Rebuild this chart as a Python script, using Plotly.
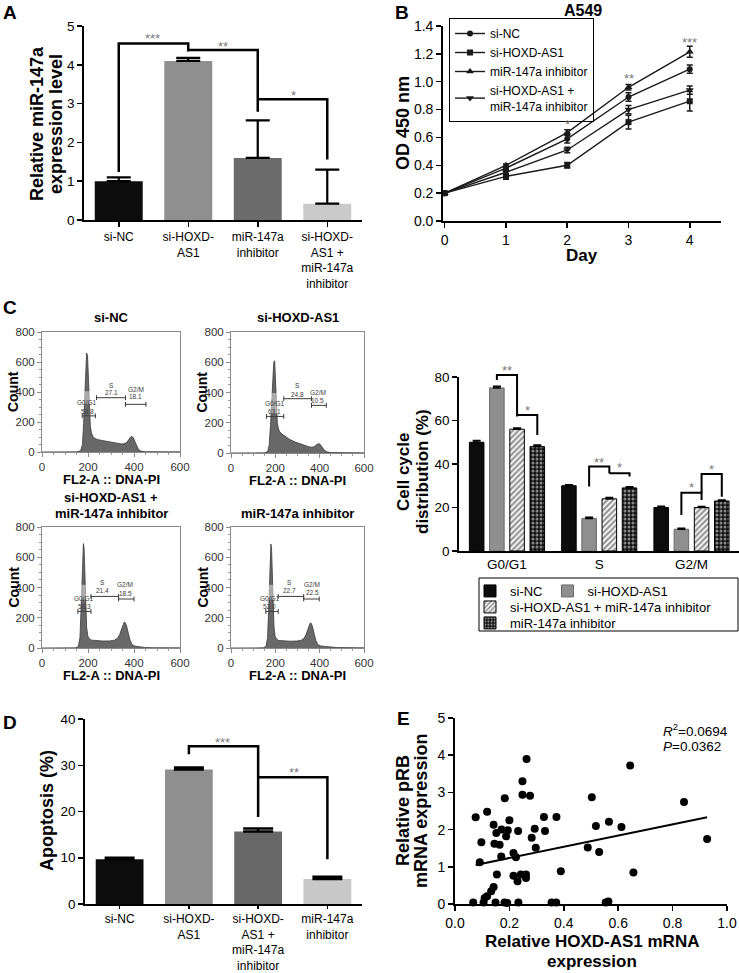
import plotly.graph_objects as go

W, H = 739, 973
FONT = "Liberation Sans, Arial, Helvetica, sans-serif"


def X(p):
    return p / W


def Y(p):
    return 1 - p / H


# ---------------- Panel A : relative miR-147a expression ----------------
a_labels = ["si-NC", "si-HOXD-<br>AS1", "miR-147a<br>inhibitor",
            "si-HOXD-<br>AS1 +<br>miR-147a<br>inhibitor"]
a_values = [1.00, 4.10, 1.60, 0.42]
a_errors = [0.10, 0.08, 0.97, 0.88]
a_colors = ["#0c0c0c", "#8f8f8f", "#6b6b6b", "#cacaca"]

# ---------------- Panel B : growth curves (OD 450 nm) ----------------
b_days = [0, 1, 2, 3, 4]
b_names = ["si-NC", "si-HOXD-AS1", "miR-147a inhibitor",
           "si-HOXD-AS1 +<br>miR-147a inhibitor"]
b_si_nc = [0.20, 0.38, 0.59, 0.89, 1.09]
b_si_hoxd = [0.20, 0.32, 0.40, 0.71, 0.86]
b_mir_inh = [0.20, 0.40, 0.635, 0.96, 1.215]
b_combo = [0.20, 0.35, 0.51, 0.80, 0.94]
b_si_nc_err = [0.01, 0.01, 0.03, 0.03, 0.03]
b_si_hoxd_err = [0.01, 0.02, 0.02, 0.05, 0.07]
b_mir_inh_err = [0.01, 0.01, 0.02, 0.02, 0.04]
b_combo_err = [0.01, 0.01, 0.02, 0.03, 0.03]
b_symbols = ["circle", "square", "triangle-up", "triangle-down"]

# ---------------- Panel C : flow cytometry histograms ----------------
h_nc_x = [0, 150, 168, 176, 181, 186, 190, 194, 198, 202, 206, 210, 215, 221, 229, 240, 260, 290, 320,
          345, 360, 370, 378, 385, 391, 397, 404, 412, 420, 430, 450, 600]
h_nc_y = [0, 1, 8, 50, 190, 400, 580, 660, 640, 470, 280, 175, 128, 104, 92, 84, 77, 68, 60,
          54, 56, 66, 85, 100, 104, 96, 70, 38, 16, 6, 2, 1]
h_hx_x = [0, 150, 165, 172, 178, 184, 189, 193, 197, 201, 205, 209, 214, 220, 230, 245, 265, 290, 320,
          350, 365, 375, 383, 390, 396, 403, 411, 420, 432, 450, 600]
h_hx_y = [0, 1, 8, 50, 180, 380, 530, 600, 610, 470, 290, 200, 160, 140, 125, 108, 90, 72, 55,
          42, 38, 42, 52, 60, 62, 56, 40, 20, 8, 3, 1]
h_cb_x = [0, 145, 158, 165, 170, 174, 177, 180, 183, 186, 190, 194, 199, 206, 215, 235, 265, 295, 315,
          328, 338, 346, 352, 357, 362, 368, 375, 383, 392, 405, 425, 445, 480, 600]
h_cb_y = [0, 1, 10, 70, 260, 480, 630, 690, 660, 480, 270, 140, 80, 60, 52, 48, 46, 47, 52,
          64, 90, 125, 155, 170, 168, 145, 100, 52, 22, 12, 8, 4, 2, 1]
h_mi_x = [0, 145, 158, 165, 170, 174, 177, 180, 183, 186, 190, 194, 199, 206, 215, 235, 265, 295, 315,
          328, 338, 346, 352, 357, 362, 368, 375, 383, 392, 405, 425, 445, 480, 600]
h_mi_y = [0, 1, 10, 70, 255, 470, 625, 688, 655, 475, 265, 138, 78, 58, 50, 46, 45, 46, 50,
          62, 86, 120, 150, 165, 163, 140, 95, 50, 22, 14, 10, 6, 3, 1]
gate_names = ["G0/G1", "S", "G2/M"]
gate_nc = ["53.8", "27.1", "18.1"]
gate_hx = ["63.1", "24.8", "10.5"]
gate_cb = ["58.3", "21.4", "18.5"]
gate_mi = ["52.0", "22.7", "22.5"]

# ---------------- Panel C : cell-cycle distribution bars ----------------
c_phases = ["G0/G1", "S", "G2/M"]
c_names = ["si-NC", "si-HOXD-AS1", "si-HOXD-AS1 + miR-147a inhibitor", "miR-147a inhibitor"]
c_si_nc = [50, 30, 20]
c_si_hoxd = [75, 15, 10]
c_combo = [56, 24, 20]
c_mir_inh = [48, 29, 23]
c_si_nc_err = [0.8, 0.5, 0.6]
c_si_hoxd_err = [0.7, 0.5, 0.5]
c_combo_err = [0.6, 0.6, 0.5]
c_mir_inh_err = [0.7, 0.5, 0.5]

# ---------------- Panel D : apoptosis ----------------
d_labels = ["si-NC", "si-HOXD-<br>AS1", "si-HOXD-<br>AS1 +<br>miR-147a<br>inhibitor",
            "miR-147a<br>inhibitor"]
d_values = [9.7, 29.1, 15.7, 5.4]
d_errors = [0.3, 0.4, 0.6, 0.5]
d_colors = ["#0c0c0c", "#8f8f8f", "#686868", "#c8c8c8"]

# ---------------- Panel E : correlation ----------------
e_x = [0.076, 0.097, 0.091, 0.067, 0.118, 0.142, 0.152, 0.145, 0.164, 0.171, 0.183, 0.188, 0.194, 0.200,
       0.170, 0.154, 0.142, 0.133, 0.118, 0.109, 0.105, 0.149, 0.182, 0.192, 0.215, 0.224, 0.232, 0.215,
       0.230, 0.242, 0.261, 0.261, 0.233, 0.248, 0.263, 0.248, 0.276, 0.282, 0.293, 0.297, 0.327, 0.331,
       0.355, 0.372, 0.373, 0.389, 0.503, 0.488, 0.518, 0.530, 0.554, 0.564, 0.566, 0.612, 0.644, 0.656,
       0.842, 0.927]
e_y = [2.33, 1.66, 1.12, 0.04, 2.48, 2.13, 1.91, 1.62, 1.59, 2.00, 2.84, 1.82, 1.98, 2.25,
       1.28, 0.79, 0.46, 0.34, 0.21, 0.16, 0.04, 0.04, 0.04, 0.03, 1.37, 1.26, 1.96, 0.76,
       0.61, 0.79, 0.79, 0.70, 0.04, 3.30, 3.90, 2.94, 2.91, 1.78, 2.02, 1.51, 2.34, 1.96,
       0.04, 0.04, 2.34, 0.88, 2.87, 1.52, 2.10, 1.40, 0.04, 0.07, 2.21, 2.07, 3.72, 0.85,
       2.74, 1.75]
e_fit_x = [0.076, 0.927]
e_fit_y = [1.05, 2.33]
e_stats = ["<i>R</i><sup>2</sup>=0.0694", "<i>P</i>=0.0362"]

# =====================================================================
fig = go.Figure()

# Panel A bars
fig.add_trace(go.Bar(x=list(range(len(a_values))), y=a_values, width=0.69,
                     marker=dict(color=a_colors, line=dict(width=0)),
                     error_y=dict(type="data", array=a_errors, arrayminus=[0] * len(a_errors),
                                  symmetric=False, color="black", thickness=2.2, width=12),
                     xaxis="x", yaxis="y", showlegend=False))

# Panel B lines
for name, vals, errs, sym in zip(b_names, [b_si_nc, b_si_hoxd, b_mir_inh, b_combo],
                                 [b_si_nc_err, b_si_hoxd_err, b_mir_inh_err, b_combo_err], b_symbols):
    fig.add_trace(go.Scatter(x=b_days, y=vals, name=name, mode="lines+markers",
                             line=dict(color="#1a1a1a", width=1.4),
                             marker=dict(symbol=sym, size=7 if "triangle" in sym else 6, color="#1a1a1a"),
                             error_y=dict(type="data", array=errs, color="#1a1a1a", thickness=1.5, width=3),
                             xaxis="x2", yaxis="y2", legend="legend", showlegend=True))

# Panel C histograms
hists = [(h_nc_x, h_nc_y, "3"), (h_hx_x, h_hx_y, "4"), (h_cb_x, h_cb_y, "5"), (h_mi_x, h_mi_y, "6")]
for hx, hy, k in hists:
    fig.add_trace(go.Scatter(x=hx, y=hy, mode="lines", fill="tozeroy",
                             line=dict(color="#3a3a3a", width=0.8), fillcolor="#686868",
                             xaxis="x" + k, yaxis="y" + k, showlegend=False, hoverinfo="skip"))

# Panel C grouped bars
c_styles = [
    dict(color="#0c0c0c", line=dict(color="black", width=1)),
    dict(color="#8f8f8f", line=dict(color="#6a6a6a", width=1)),
    dict(color="white", line=dict(color="black", width=1),
         pattern=dict(shape="/", fgcolor="#2a2a2a", bgcolor="white", size=4, solidity=0.55)),
    dict(color="black", line=dict(color="black", width=1),
         pattern=dict(shape=".", fgcolor="white", bgcolor="#111111", size=4, solidity=0.45)),
]
c_legends = ["legend2", "legend2", "legend3", "legend4"]
for name, vals, errs, mk, lg in zip(c_names, [c_si_nc, c_si_hoxd, c_combo, c_mir_inh],
                                    [c_si_nc_err, c_si_hoxd_err, c_combo_err, c_mir_inh_err],
                                    c_styles, c_legends):
    fig.add_trace(go.Bar(x=list(range(len(c_phases))), y=vals, name=name, marker=mk,
                         error_y=dict(type="data", array=errs, arrayminus=[0] * len(errs),
                                      symmetric=False, color="black", thickness=1.5, width=4),
                         xaxis="x7", yaxis="y7", legend=lg, showlegend=True))

# Panel D bars
fig.add_trace(go.Bar(x=list(range(len(d_values))), y=d_values, width=0.69,
                     marker=dict(color=d_colors, line=dict(width=0)),
                     error_y=dict(type="data", array=d_errors, arrayminus=[0] * len(d_errors),
                                  symmetric=False, color="black", thickness=2.5, width=15),
                     xaxis="x8", yaxis="y8", showlegend=False))

# Panel E scatter + fit
fig.add_trace(go.Scatter(x=e_x, y=e_y, mode="markers", marker=dict(color="black", size=8),
                         cliponaxis=False, xaxis="x9", yaxis="y9", showlegend=False))
fig.add_trace(go.Scatter(x=e_fit_x, y=e_fit_y, mode="lines", line=dict(color="black", width=2),
                         xaxis="x9", yaxis="y9", showlegend=False))

# =====================================================================
def axis(**kw):
    base = dict(showline=True, linecolor="black", linewidth=1.8, ticks="outside", ticklen=5,
                tickwidth=1.5, tickcolor="black", showgrid=False, zeroline=False, automargin=False,
                tickfont=dict(size=13.5, color="black", family=FONT), fixedrange=True)
    base.update(kw)
    return base


def hist_axis(**kw):
    base = dict(showline=True, mirror=True, linecolor="#8a8a8a", linewidth=1, ticks="outside",
                ticklen=4, tickwidth=1, tickcolor="#8a8a8a", showgrid=False, zeroline=False,
                automargin=False, fixedrange=True,
                tickfont=dict(size=11.5, color="#333333", family=FONT))
    base.update(kw)
    return base


hist_boxes = {"3": (42, 180, 332, 452), "4": (231, 364, 332, 453),
              "5": (42, 180, 527, 648), "6": (231, 364, 527, 648)}

cat_font = dict(size=12, color="black", family=FONT)
layout_axes = dict(
    xaxis=axis(domain=[X(84), X(362)], anchor="y", range=[-0.5, 3.5], tickvals=[0, 1, 2, 3],
               ticktext=a_labels, tickfont=cat_font),
    yaxis=axis(domain=[Y(220), Y(26)], anchor="x", range=[0, 5], dtick=1),
    xaxis2=axis(domain=[X(443), X(721)], anchor="y2", range=[-0.028, 4.51], dtick=1,
                tickfont=dict(size=14, color="black", family=FONT)),
    yaxis2=axis(domain=[Y(221), Y(26)], anchor="x2", range=[0, 1.4], dtick=0.2, tickformat=".1f",
                tickfont=dict(size=14, color="black", family=FONT)),
    xaxis7=axis(domain=[X(459), 1.0], anchor="y7", range=[-0.52, 2.515], tickvals=[0, 1, 2],
                ticktext=c_phases, ticks=""),
    yaxis7=axis(domain=[Y(551), Y(377)], anchor="x7", range=[0, 80], dtick=20),
    xaxis8=axis(domain=[X(85), X(362)], anchor="y8", range=[-0.5, 3.5], tickvals=[0, 1, 2, 3],
                ticktext=d_labels, tickfont=cat_font, ticklen=3),
    yaxis8=axis(domain=[Y(904), Y(719)], anchor="x8", range=[0, 40], dtick=10),
    xaxis9=axis(domain=[X(455), X(727)], anchor="y9", range=[0, 1.0], dtick=0.2, tickformat=".1f",
                tickfont=dict(size=14, color="black", family=FONT)),
    yaxis9=axis(domain=[Y(904), Y(718)], anchor="x9", range=[0, 5], dtick=1,
                tickfont=dict(size=14, color="black", family=FONT)),
)
for k, (x0, x1, y0, y1) in hist_boxes.items():
    layout_axes["xaxis" + k] = hist_axis(domain=[X(x0), X(x1)], anchor="y" + k, range=[0, 600],
                                         dtick=200, minor=dict(ticks="outside", ticklen=2,
                                                               tickcolor="#9a9a9a", dtick=50))
    layout_axes["yaxis" + k] = hist_axis(domain=[Y(y1), Y(y0)], anchor="x" + k, range=[0, 800],
                                         dtick=200, minor=dict(ticks="outside", ticklen=2,
                                                               tickcolor="#9a9a9a", dtick=50))

shapes = []
annotations = []


def text(t, x, y, size=13, bold=False, color="black", angle=0, xref="paper", yref="paper",
         xanchor="center", yanchor="middle"):
    annotations.append(dict(text=("<b>%s</b>" % t) if bold else t, x=x, y=y, xref=xref, yref=yref,
                            showarrow=False, textangle=angle, xanchor=xanchor, yanchor=yanchor,
                            font=dict(size=size, color=color, family=FONT)))


def path(points, xref, yref, width=2.5, color="black"):
    d = "M " + " L ".join("%g,%g" % p for p in points)
    shapes.append(dict(type="path", path=d, xref=xref, yref=yref,
                       line=dict(color=color, width=width), layer="above"))


# Panel letters
for letter, (lx, ly) in zip("ABCDE", [(10, 12), (402, 12), (10, 307), (10, 722), (403, 718)]):
    text(letter, X(lx), Y(ly), size=19, bold=True)

# Panel A extras
text("Relative miR-147a", X(37), Y(124), size=18, bold=True, angle=-90)
text("expression level", X(56), Y(124), size=18, bold=True, angle=-90)
path([(0, 1.24), (0, 4.55), (1, 4.55), (1, 4.34)], "x", "y")
path([(1, 4.38), (2, 4.38), (2, 2.79)], "x", "y")
path([(2, 3.11), (3, 3.11), (3, 1.56)], "x", "y")
for s, sx, sy in [("***", 0.48, 4.69), ("**", 1.5, 4.46), ("*", 2.51, 3.2)]:
    text(s, sx, sy, size=13, color="#7a7a7a", xref="x", yref="y")

# Panel B extras
text("A549", X(583), Y(11), size=16, bold=True)
text("OD 450 nm", X(403), Y(123), size=18, bold=True, angle=-90)
text("Day", X(582), Y(255), size=17, bold=True)
for s, sx, sy in [("*", 2, 0.69), ("**", 3, 1.02), ("***", 4, 1.285)]:
    text(s, sx, sy, size=13, color="#7a7a7a", xref="x2", yref="y2")

# Panel C histograms extras
hist_titles = {"3": ["si-NC"], "4": ["si-HOXD-AS1"], "5": ["si-HOXD-AS1 +", "miR-147a inhibitor"],
               "6": ["miR-147a inhibitor"]}
gate_layout = {
    "3": (gate_nc, [175, 237, 363], [232, 363, 452], [241, 362, 318], [196, 300, 407], [328, 442, 415], [272, 400, 367]),
    "4": (gate_hx, [160, 238, 363], [238, 363, 430], [242, 359, 315], [198, 300, 392], [329, 445, 398], [275, 390, 346]),
    "5": (gate_cb, [156, 213, 333], [213, 333, 400], [242, 341, 324], [183, 265, 362], [327, 432, 420], [273, 377, 361]),
    "6": (gate_mi, [157, 213, 328], [213, 328, 398], [242, 341, 324], [175, 264, 366], [327, 432, 420], [273, 379, 366]),
}
bands = {"3": (320, 405), "4": (260, 396), "5": (320, 418), "6": (320, 418)}
for k, (x0, x1, y0, y1) in hist_boxes.items():
    cxm = (x0 + x1) / 2
    titles = hist_titles[k]
    if len(titles) == 1:
        text(titles[0], X(cxm), Y(y0 - 14), size=13, bold=True)
    else:
        text(titles[0], X(cxm), Y(y0 - 30), size=13, bold=True)
        text(titles[1], X(cxm), Y(y0 - 14), size=13, bold=True)
    text("Count", X(x0 - 29), Y((y0 + y1) / 2), size=14, bold=True, angle=-90)
    text("FL2-A :: DNA-PI", X(cxm), Y(y1 + 27), size=13, bold=True)
    b0, b1 = bands[k]
    shapes.append(dict(type="rect", xref="x" + k, yref="y" + k, x0=150, x1=235, y0=b0, y1=b1,
                       fillcolor="rgba(255,255,255,0.45)", line=dict(width=0), layer="above"))
    vals, gx0, gx1, gy, tx, ty1, ty2 = gate_layout[k]
    for i in range(3):
        shapes.append(dict(type="line", xref="x" + k, yref="y" + k, x0=gx0[i], x1=gx1[i], y0=gy[i], y1=gy[i],
                           line=dict(color="#3a3a3a", width=1), layer="above"))
        for ex in (gx0[i], gx1[i]):
            shapes.append(dict(type="line", xref="x" + k, yref="y" + k, x0=ex, x1=ex, y0=gy[i] - 16,
                               y1=gy[i] + 16, line=dict(color="#3a3a3a", width=1), layer="above"))
        text(gate_names[i], tx[i], ty1[i], size=6.5, color="#3a3a3a", xref="x" + k, yref="y" + k)
        text(vals[i], tx[i], ty2[i], size=6.5, color="#3a3a3a", xref="x" + k, yref="y" + k)

# Panel C bar chart extras (paper coords because brackets exceed the axis range)
C_X0, C_X1, C_R0, C_R1 = 459, 739, -0.52, 2.515


def cx(v):
    return X(C_X0 + (v - C_R0) / (C_R1 - C_R0) * (C_X1 - C_X0))


def cy(v):
    return Y(551 - v * (551 - 377) / 80)


def cpath(points, width=2):
    path([(cx(a), cy(b)) for a, b in points], "paper", "paper", width=width)


slot = 0.219
o = [(i - 1.5) * slot for i in range(4)]
cpath([(0 + o[1], 78.6), (0 + o[1], 80.9), (0 + o[2], 80.9), (0 + o[2], 61.8)])
cpath([(0 + o[2], 62.5), (0 + o[3], 62.5), (0 + o[3], 53.3)])
cpath([(1 + o[1], 29.6), (1 + o[1], 38.8), (1 + o[2], 38.8), (1 + o[2], 35.8)])
cpath([(1 + o[2], 35.8), (1 + o[3], 35.8), (1 + o[3], 34.2)])
cpath([(2 + o[1], 16.5), (2 + o[1], 26.8), (2 + o[2], 26.8), (2 + o[2], 23.4)])
cpath([(2 + o[2], 26.8), (2 + o[2], 35.4), (2 + o[3], 35.4), (2 + o[3], 25.0)])
for s, sx, sy in [("**", 0.0, 83.2), ("*", 0.22, 64.6), ("**", 1.0, 40.8), ("*", 1.22, 38.6),
                  ("*", 2.0, 29.2), ("*", 2.22, 37.6)]:
    text(s, cx(sx), cy(sy), size=13, color="#7a7a7a")
text("Cell cycle", X(403), Y(472), size=17, bold=True, angle=-90)
text("distribution (%)", X(422), Y(472), size=17, bold=True, angle=-90)
shapes.append(dict(type="rect", xref="paper", yref="paper", x0=X(479), x1=X(738), y0=Y(631), y1=Y(578),
                   line=dict(color="black", width=1), fillcolor="rgba(0,0,0,0)"))

# Panel D extras
text("Apoptosis (%)", X(47), Y(811), size=18, bold=True, angle=-90)
path([(1, 32.4), (1, 34.1), (2, 34.1), (2, 18.8)], "x8", "y8")
path([(2, 27.4), (3, 27.4), (3, 9.7)], "x8", "y8")
for s, sx, sy in [("***", 1.49, 35.0), ("**", 2.52, 28.5)]:
    text(s, sx, sy, size=13, color="#7a7a7a", xref="x8", yref="y8")

# Panel E extras
text("Relative pRB", X(403), Y(811), size=18, bold=True, angle=-90)
text("mRNA expression", X(421), Y(811), size=18, bold=True, angle=-90)
text("Relative HOXD-AS1 mRNA", X(592), Y(941), size=17, bold=True)
text("expression", X(592), Y(961), size=17, bold=True)
text(e_stats[0], X(661), Y(730), size=13.5, xanchor="left")
text(e_stats[1], X(661), Y(746), size=13.5, xanchor="left")

leg_small = dict(xanchor="left", yanchor="top", bgcolor="rgba(0,0,0,0)",
                 font=dict(size=13, family=FONT), itemwidth=30, tracegroupgap=0)
fig.update_layout(
    width=W, height=H, margin=dict(l=0, r=0, t=0, b=0, autoexpand=False),
    paper_bgcolor="white", plot_bgcolor="white",
    font=dict(family=FONT, color="black"),
    barmode="group", bargap=0.124, bargroupgap=0.28,
    legend=dict(x=X(449), y=Y(18), xanchor="left", yanchor="top", bordercolor="black", borderwidth=1,
                bgcolor="rgba(0,0,0,0)", font=dict(size=12, family=FONT), itemwidth=30,
                tracegroupgap=0),
    legend2=dict(x=X(470), y=Y(576), orientation="h", **leg_small),
    legend3=dict(x=X(470), y=Y(592), orientation="v", **leg_small),
    legend4=dict(x=X(470), y=Y(608), orientation="v", **leg_small),
    shapes=shapes, annotations=annotations,
    **layout_axes,
)

fig.write_html("out.html", config={"displayModeBar": False, "staticPlot": True},
               post_script="document.body.style.margin='0px';document.body.style.padding='0px';"
                           "window.dispatchEvent(new Event('resize'));")
